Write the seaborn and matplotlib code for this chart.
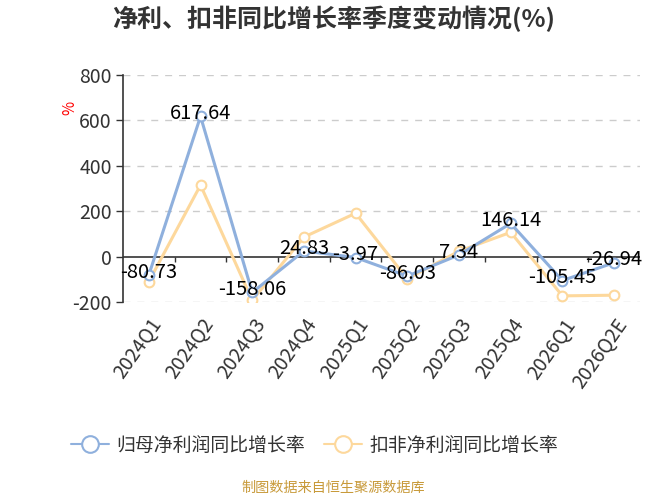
import matplotlib
matplotlib.use("Agg")
import matplotlib.pyplot as plt
import seaborn as sns
import pandas as pd
from matplotlib.lines import Line2D

# data
quarters = ['2024Q1', '2024Q2', '2024Q3', '2024Q4', '2025Q1',
            '2025Q2', '2025Q3', '2025Q4', '2026Q1', '2026Q2E']
net_profit_yoy = [-80.73, 617.64, -158.06, 24.83, -3.97,
                  -86.03, 7.34, 146.14, -105.45, -26.94]
deducted_yoy = [-110, 315, -193, 86, 191, -98, 24, 107, -173, -170]
series_names = ['归母净利润同比增长率', '扣非净利润同比增长率']

blue = '#8fb0dd'
orange = '#fdd89c'
dark = '#333333'

sns.set_theme(style='white')
plt.rcParams['font.family'] = ['Noto Sans CJK SC', 'DejaVu Sans']
plt.rcParams['axes.unicode_minus'] = False

df = pd.DataFrame({'pos': range(len(quarters)), 'quarter': quarters,
                   'net': net_profit_yoy, 'deducted': deducted_yoy})

fig = plt.figure(figsize=(6.67, 5), dpi=100)
ax = fig.add_axes([0.1844, 0.396, 0.775, 0.454])

sns.lineplot(data=df, x='pos', y='net', ax=ax, color=blue, lw=2.2,
             marker='o', markersize=7, markerfacecolor='white',
             markeredgecolor=blue, markeredgewidth=1.5, zorder=4)
sns.lineplot(data=df, x='pos', y='deducted', ax=ax, color=orange, lw=2.2,
             marker='o', markersize=7, markerfacecolor='white',
             markeredgecolor=orange, markeredgewidth=1.5, zorder=3)

# value labels for the first series
for x, v in zip(df['pos'], df['net']):
    ax.annotate(f'{v:.2f}', (x, v), xytext=(0, 2), textcoords='offset points',
                ha='center', va='center', fontsize=14.5, color='black', zorder=5)

ax.set_xlim(-0.5, len(quarters) - 0.5)
ax.set_ylim(-200, 800)
ax.set_yticks([-200, 0, 200, 400, 600, 800])
ax.set_xticks(df['pos'])
ax.set_xticklabels(quarters, rotation=55, ha='right', rotation_mode='anchor')
ax.tick_params(axis='x', length=0, pad=9, labelsize=14, labelcolor=dark)
ax.tick_params(axis='y', length=5, width=1, color=dark, direction='out',
               labelsize=14, labelcolor=dark, pad=3, left=True)
ax.set_xlabel('')
ax.set_ylabel('')

for s in ['top', 'right', 'bottom']:
    ax.spines[s].set_visible(False)
ax.spines['left'].set_color(dark)
ax.spines['left'].set_linewidth(1.2)

for g in [-200, 200, 400, 600, 800]:
    ax.axhline(g, color='#cccccc', lw=1, ls=(0, (5, 5)), zorder=1)
ax.axhline(0, color=dark, lw=1.2, zorder=2)
bounds = [i + 0.5 for i in range(len(quarters) - 1)]
ax.vlines(bounds, -22, 0, color=dark, lw=1, zorder=2)

ax.text(-0.1025, 0.855, '%', transform=ax.transAxes, rotation=90, color='red',
        fontsize=11, ha='center', va='center')

fig.text(0.5, 0.963, '净利、扣非同比增长率季度变动情况(%)', ha='center', va='center',
         fontsize=18, fontweight='bold', color=dark)

handles = [Line2D([], [], color=c, lw=1.5, marker='o', markersize=12,
                  markerfacecolor='white', markeredgecolor=c, markeredgewidth=1.5)
           for c in (blue, orange)]
fig.legend(handles, series_names, loc='center', bbox_to_anchor=(0.472, 0.11),
           ncol=2, frameon=False, fontsize=13.6, handlelength=2.0,
           columnspacing=1.0, handletextpad=0.4, labelcolor=dark)

fig.text(0.5, 0.024, '制图数据来自恒生聚源数据库', ha='center', va='center',
         fontsize=10.2, color='#c89a3a')

fig.savefig('out.png', dpi=100)
